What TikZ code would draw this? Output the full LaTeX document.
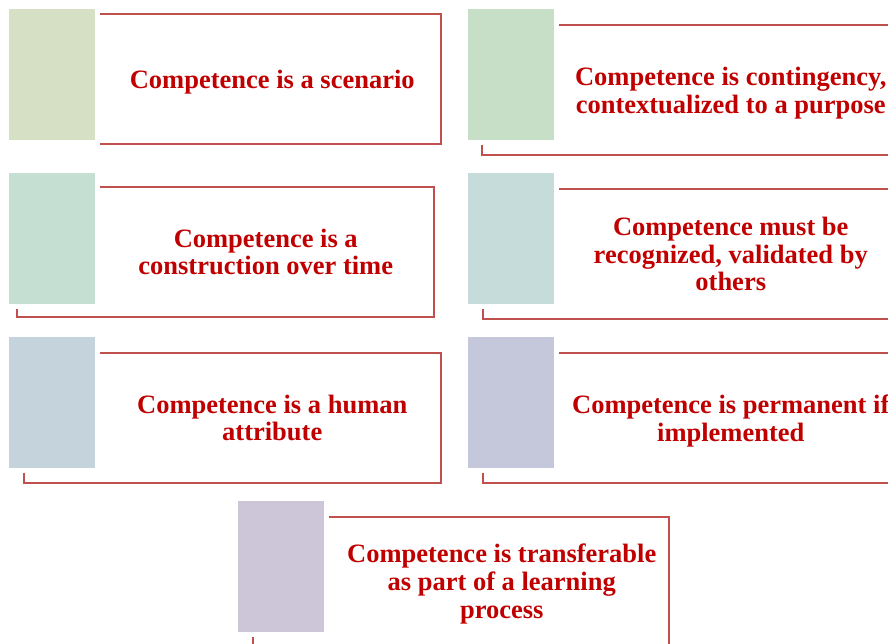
\documentclass[tikz,border=0pt]{standalone}
\usepackage{fontspec}
\setmainfont{Liberation Serif}
\usepackage{xcolor}
\usetikzlibrary{positioning, calc}

\definecolor{framered}{HTML}{C0504D}
\definecolor{textred}{HTML}{C00000}
\definecolor{tabA}{HTML}{D6E0C5}
\definecolor{tabB}{HTML}{C6DFC6}
\definecolor{tabC}{HTML}{C5DFD2}
\definecolor{tabD}{HTML}{C6DCDB}
\definecolor{tabE}{HTML}{C5D3DC}
\definecolor{tabF}{HTML}{C5C7DA}
\definecolor{tabG}{HTML}{CCC6D8}

\tikzset{
    frame/.style={
        rectangle,
        draw=framered,
        line width=1.6pt,
        minimum width=417pt,
        minimum height=130pt,
        outer sep=0pt,
        inner sep=0pt,
    },
    tab/.style={
        rectangle,
        fill=#1,
        draw=white,
        line width=5pt,
        minimum width=91pt,
        minimum height=136pt,
        outer sep=0pt,
        inner sep=0pt,
    },
    blurb/.style={
        align=center,
        text=textred,
        font=\bfseries\fontsize{26.5}{27.8}\selectfont,
        inner sep=0pt,
    },
}

\begin{document}
\begin{tikzpicture}[x=1pt,y=-1pt]
          \useasboundingbox (0,0) rectangle (888,644);

          % outlined frames, partly hidden by the tabs
          \node [frame] (f1) at (232.5,79) {};
          \node [frame, minimum width=423pt] (f2) at (693.5,90) {};
          \node [frame] (f3) at (225.5,252) {};
          \node [frame, minimum width=422pt] (f4) at (694,254) {};
          \node [frame] (f5) at (232.5,418) {};
          \node [frame, minimum width=422pt] (f6) at (694,418) {};
          \node [frame, minimum width=416pt] (f7) at (461,582) {};

          % coloured tabs with a white rim
          \node [tab=tabA] (s1) at (52,74.5) {};
          \node [tab=tabB] (s2) at (511,74.5) {};
          \node [tab=tabC] (s3) at (52,238.5) {};
          \node [tab=tabD] (s4) at (511,238.5) {};
          \node [tab=tabE] (s5) at (52,402.5) {};
          \node [tab=tabF] (s6) at (511,402.5) {};
          \node [tab=tabG] (s7) at (281,566.5) {};

          % texts, centred between tab and right side of the frame
          \node [blurb, xshift=3pt, yshift=-3pt] (t1) at ($(f1.center -| s1.east)!.5!(f1.east)$) {Competence is a scenario};
          \node [blurb, yshift=-3pt] (t2) at ($(f2.center -| s2.east)!.5!(f2.east)$) {Competence is contingency,\\contextualized to a purpose};
          \node [blurb] (t3) at ($(f3.center -| s3.east)!.5!(f3.east)$) {Competence is a\\construction over time};
          \node [blurb] (t4) at ($(f4.center -| s4.east)!.5!(f4.east)$) {Competence must be\\recognized, validated by\\others};
          \node [blurb, xshift=3pt] (t5) at ($(f5.center -| s5.east)!.5!(f5.east)$) {Competence is a human\\attribute};
          \node [blurb, yshift=-3pt] (t6) at ($(f6.center -| s6.east)!.5!(f6.east)$) {Competence is permanent if\\implemented};
          \node [blurb, xshift=4pt, yshift=-2pt] (t7) at ($(f7.center -| s7.east)!.5!(f7.east)$) {Competence is transferable\\as part of a learning\\process};
        \end{tikzpicture}
\end{document}
